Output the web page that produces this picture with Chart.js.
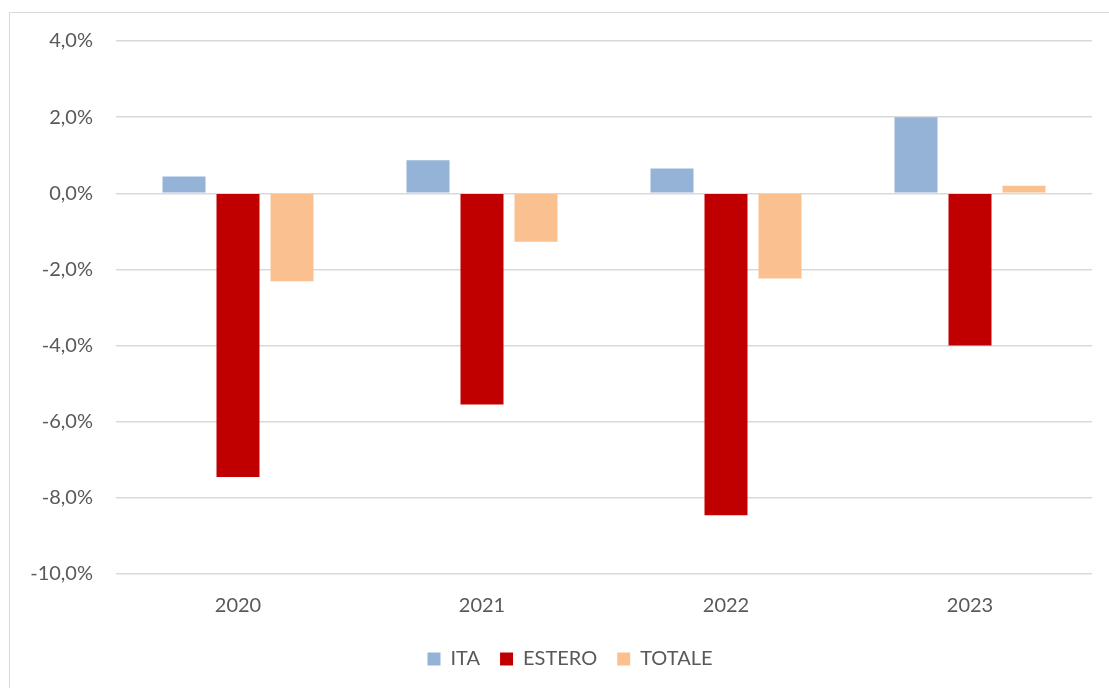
<!DOCTYPE html>
<html>
<head>
<meta charset="utf-8">
<script src="https://cdn.jsdelivr.net/npm/chart.js@4"></script>
<style>
html,body{margin:0;padding:0;background:#fff;overflow:hidden;}
#wrap{position:relative;width:1109px;height:688px;}
#frame{position:absolute;left:9px;top:12px;width:1300px;height:900px;border:1px solid #d9d9d9;box-sizing:border-box;}
canvas{position:absolute;left:0;top:0;}
</style>
</head>
<body>
<div id="wrap">
<div id="frame"></div>
<canvas id="c" width="1109" height="688"></canvas>
</div>
<script>
const categories = ["2020", "2021", "2022", "2023"];
const seriesNames = ["ITA", "ESTERO", "TOTALE"];
const ita = [0.44, 0.87, 0.65, 2.0];
const estero = [-7.45, -5.55, -8.46, -4.0];
const totale = [-2.31, -1.27, -2.24, 0.20];
const yTicks = [4, 2, 0, -2, -4, -6, -8, -10];

const colors = ["#95B3D7", "#C00000", "#FAC090"];
const FONT = "Lato, 'Liberation Sans', sans-serif";
const TXT = "#595959";

const legendShift = {
  id: "legendShift",
  afterLayout(chart) {
    if (chart.legend) { chart.legend.left += 24; chart.legend.right += 24; }
  }
};

new Chart(document.getElementById("c"), {
  type: "bar",
  data: {
    labels: categories,
    datasets: [
      { label: seriesNames[0], data: ita, backgroundColor: colors[0] },
      { label: seriesNames[1], data: estero, backgroundColor: colors[1] },
      { label: seriesNames[2], data: totale, backgroundColor: colors[2] }
    ]
  },
  plugins: [legendShift],
  options: {
    responsive: false,
    animation: false,
    devicePixelRatio: 1,
    datasets: { bar: { categoryPercentage: 0.664, barPercentage: 0.796, borderWidth: 0 } },
    layout: { padding: { left: 0, right: 17, top: 41, bottom: 9 } },
    plugins: {
      legend: {
        position: "bottom",
        labels: {
          font: { family: FONT, size: 20 },
          color: TXT,
          boxWidth: 13,
          boxHeight: 13,
          padding: 20
        }
      },
      tooltip: { enabled: false }
    },
    scales: {
      x: {
        afterFit: s => { s.height = 55; },
        grid: { display: false, drawTicks: false },
        border: { display: false },
        ticks: { font: { family: FONT, size: 20 }, color: TXT, padding: 20 }
      },
      y: {
        min: -10,
        max: 4,
        afterFit: s => { s.width = 116; },
        afterBuildTicks: s => { s.ticks = yTicks.map(v => ({ value: v })); },
        grid: { color: "#d9d9d9", lineWidth: 1.5, drawTicks: false },
        border: { display: false },
        ticks: {
          font: { family: FONT, size: 20 },
          color: TXT,
          padding: 23,
          callback: v => v.toFixed(1).replace(".", ",") + "%"
        }
      }
    }
  }
});
</script>
</body>
</html>
